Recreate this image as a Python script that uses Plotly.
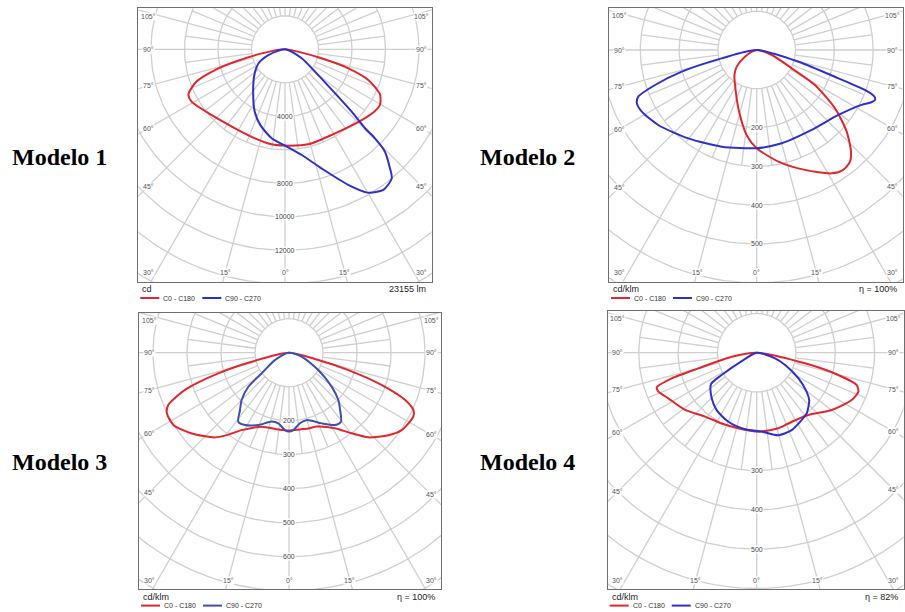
import math
import plotly.graph_objects as go

W, H = 905, 612

# ---------------- data (gamma in degrees, intensity in panel units) ----------------
# Modelo 1 (cd)
P1_C0_GAMMA = [-90, -80.5, -76, -73.5, -70, -65, -60.7, -48, -32, -18.6, -8, 0, 13.8, 30.8, 47.3, 55.6, 59.6, 64.6, 69.8, 73.3, 76.2, 78.7, 90]
P1_C0_VALUE = [0, 1210, 3080, 4360, 5620, 6360, 6390, 5880, 5580, 5610, 5730, 5750, 5840, 5840, 6230, 6510, 6570, 6280, 5300, 3950, 2250, 1020, 0]
P1_C90_GAMMA = [-90, -71, -62, -50, -37, -26, -18, -8.5, 0, 9, 17, 25, 30, 35, 39.6, 41.4, 44.3, 45.3, 45.4, 46.9, 48.7, 53.3, 61.6, 90]
P1_C90_VALUE = [0, 1050, 1800, 2390, 3160, 4130, 4760, 5370, 5750, 6390, 7430, 8930, 9880, 10240, 10000, 9480, 8540, 7560, 6710, 5450, 3980, 2230, 1130, 0]

# Modelo 2 (cd/klm)
P2_C0_GAMMA = [-90, -60.3, -50.2, -41.8, -26.7, -16.0, -6.7, 0, 11.0, 21.9, 31.3, 35.8, 39.9, 42.9, 47.8, 53.3, 59.0, 62.4, 71.6, 90]
P2_C0_VALUE = [0, 35, 67, 86, 120, 165, 221, 253, 293, 333, 372, 381, 375, 357, 313, 252, 175, 102, 41, 0]
P2_C90_GAMMA = [-90, -76.6, -73.9, -71.0, -68.5, -66.0, -61.8, -52.7, -37.7, -19.9, 0, 15, 34.5, 51.5, 62.4, 65.5, 67.1, 68.4, 69.7, 70.9, 74.4, 90]
P2_C90_VALUE = [0, 93, 201, 277, 328, 338, 336, 319, 288, 265, 253, 249, 250, 269, 305, 325, 331, 326, 297, 223, 112, 0]

# Modelo 3 (cd/klm)
P3_C0_GAMMA = [-90, -76.4, -73.7, -70.3, -66.6, -63.6, -58.0, -50.3, -41.2, -37.1, -31.5, -20.3, -7.9, 0, 7.9, 14.3, 20.5, 31.3, 37.8, 43.1, 50.3, 55.5, 62.8, 65.2, 67.8, 70.8, 73.7, 76.0, 90]
P3_C0_VALUE = [0, 113, 217, 325, 387, 401, 401, 372, 331, 304, 267, 232, 228, 229, 228, 230, 232, 260, 300, 341, 380, 402, 411, 403, 369, 288, 182, 89, 0]
P3_C90_GAMMA = [-90, -62.4, -52.9, -50.1, -45, -40.5, -36.3, -31.3, -23.0, -14.1, -8.6, -3.0, 0, 3.2, 8.8, 14.7, 24.8, 32.5, 37.0, 41.7, 46.2, 51.4, 59.4, 72.5, 90]
P3_C90_VALUE = [0, 47, 101, 156, 197, 222, 252, 249, 231, 209, 210, 228, 232, 228, 210, 205, 229, 252, 254, 226, 201, 161, 100, 39, 0]

# Modelo 4 (cd/klm)
P4_C0_GAMMA = [-90, -80.9, -75.0, -73.2, -70.9, -68.4, -62.7, -51.3, -38.9, -26.3, -13.6, 1.2, 16.0, 26.9, 39.7, 52.6, 63.5, 69.0, 72.1, 74.7, 77.6, 90]
P4_C0_VALUE = [0, 64, 154, 226, 269, 269, 253, 233, 209, 201, 198, 201, 200, 197, 206, 240, 270, 277, 267, 215, 126, 0]
P4_C90_GAMMA = [-90, -61.2, -57.5, -55.5, -44.6, -34.9, -22.3, -8.7, 3.6, 14.7, 24.3, 33.7, 39.5, 47.9, 52.0, 58.4, 66.5, 72.8, 90]
P4_C90_VALUE = [0, 39, 106, 141, 163, 178, 190, 197, 201, 217, 216, 206, 200, 180, 161, 125, 79, 49, 0]

MODEL_NAMES = ["Modelo 1", "Modelo 2", "Modelo 3", "Modelo 4"]
SERIES_NAMES = ["C0 - C180", "C90 - C270"]
UNIT_TEXT = ["cd", "cd/klm", "cd/klm", "cd/klm"]
INFO_TEXT = ["23155 lm", "η = 100%", "η = 100%", "η = 82%"]
RING_STEP = [2000, 100, 100, 100]
RING_LABELS = [[4000, 8000, 10000, 12000], [200, 300, 400, 500], [200, 300, 400, 500, 600], [300, 400, 500]]
ANGLE_LABELS = [0, 15, 30, 45, 60, 75, 90, 105]

CURVES = [
    [(P1_C0_GAMMA, P1_C0_VALUE), (P1_C90_GAMMA, P1_C90_VALUE)],
    [(P2_C0_GAMMA, P2_C0_VALUE), (P2_C90_GAMMA, P2_C90_VALUE)],
    [(P3_C0_GAMMA, P3_C0_VALUE), (P3_C90_GAMMA, P3_C90_VALUE)],
    [(P4_C0_GAMMA, P4_C0_VALUE), (P4_C90_GAMMA, P4_C90_VALUE)],
]

# ---------------- layout geometry (pixels) ----------------
GEOM = [
    dict(box=(138.3, 8.3, 431.7, 281.7), c=(285.0, 49.3), px=33.5, label=(10, 157)),
    dict(box=(609.0, 7.7, 902.7, 281.7), c=(756.7, 50.0), px=38.8, label=(478, 157)),
    dict(box=(139.0, 312.7, 441.0, 589.3), c=(289.0, 352.7), px=34.0, label=(10, 462)),
    dict(box=(607.7, 310.7, 903.5, 589.3), c=(756.7, 352.7), px=39.3, label=(478, 462)),
]
RED = "#e2262c"
BLUES = ["#2f2fd0", "#2f2fd0", "#3c4fb2", "#2f2fd0"]
GRID = "#cfcfcf"
FRAME = "#6e6e6e"
SANS = "Liberation Sans, Arial, sans-serif"


def xp(px):
    return px / W


def yp(py):
    return 1 - py / H


fig = go.Figure()
annotations = []
shapes = []
layout_axes = {}

for i in range(4):
    g = GEOM[i]
    L, T, R, B = g["box"]
    cx, cy = g["c"]
    step = RING_STEP[i]
    s = g["px"] / step  # pixels per unit
    xa = "x" if i == 0 else f"x{i + 1}"
    ya = "y" if i == 0 else f"y{i + 1}"
    xname = "xaxis" if i == 0 else f"xaxis{i + 1}"
    yname = "yaxis" if i == 0 else f"yaxis{i + 1}"

    axis_common = dict(showgrid=False, zeroline=False, showticklabels=False, ticks="",
                       showline=True, mirror=True, linecolor=FRAME, linewidth=1, fixedrange=True)
    layout_axes[xname] = dict(domain=[xp(L), xp(R)], range=[(L - cx) / s, (R - cx) / s], anchor=ya, **axis_common)
    layout_axes[yname] = dict(domain=[yp(B), yp(T)], range=[-(B - cy) / s, (cy - T) / s], anchor=xa, **axis_common)

    # concentric rings
    rx, ry = [], []
    for k in range(1, 12):
        for a in range(0, 361, 2):
            t = math.radians(a)
            rx.append(k * step * math.cos(t))
            ry.append(k * step * math.sin(t))
        rx.append(None)
        ry.append(None)
    fig.add_trace(go.Scatter(x=rx, y=ry, mode="lines", line=dict(color=GRID, width=1.3),
                             xaxis=xa, yaxis=ya, hoverinfo="skip", showlegend=False))
    # radial spokes
    sx, sy = [], []
    for a10 in range(0, 3600, 75):
        t = math.radians(a10 / 10)
        r0 = step
        r1 = 12 * step if a10 % 150 == 0 else 3 * step
        sx += [r0 * math.sin(t), r1 * math.sin(t), None]
        sy += [-r0 * math.cos(t), -r1 * math.cos(t), None]
    fig.add_trace(go.Scatter(x=sx, y=sy, mode="lines", line=dict(color=GRID, width=1.3),
                             xaxis=xa, yaxis=ya, hoverinfo="skip", showlegend=False))

    # photometric curves
    colors = [RED, BLUES[i]]
    for j, (gam, val) in enumerate(CURVES[i]):
        x = [v * math.sin(math.radians(a)) for a, v in zip(gam, val)]
        y = [-v * math.cos(math.radians(a)) for a, v in zip(gam, val)]
        fig.add_trace(go.Scatter(x=x, y=y, mode="lines", name=SERIES_NAMES[j],
                                 line=dict(color=colors[j], width=2, shape="spline", smoothing=0.7),
                                 xaxis=xa, yaxis=ya, hoverinfo="skip", showlegend=False))

    # ring labels
    for v in RING_LABELS[i]:
        annotations.append(dict(x=0, y=-v, xref=xa, yref=ya, text=str(v), showarrow=False,
                                font=dict(family=SANS, size=7, color="#444"),
                                bgcolor="white", borderpad=0, xanchor="center", yanchor="middle"))

    # angle labels
    for a in ANGLE_LABELS:
        for side in ([1] if a == 0 else [-1, 1]):
            if a in (0, 15, 30):
                py = B - 9
                if a == 30:
                    px_ = L + 10 if side < 0 else R - 10
                else:
                    px_ = cx + side * (py - cy) * math.tan(math.radians(a))
            else:
                px_ = L + 10 if side < 0 else R - 10
                d = abs(px_ - cx)
                py = cy + d / math.tan(math.radians(a))
                py = max(py, T + 8)
            annotations.append(dict(x=xp(px_), y=yp(py), xref="paper", yref="paper", text=f"{a}°",
                                    showarrow=False, font=dict(family=SANS, size=7, color="#555"),
                                    bgcolor="white", borderpad=0, xanchor="center", yanchor="middle"))

    # text under the frame
    annotations.append(dict(x=xp(L + 2), y=yp(B + 7.5), xref="paper", yref="paper", text=UNIT_TEXT[i],
                            showarrow=False, font=dict(family=SANS, size=9, color="#222"),
                            xanchor="left", yanchor="middle"))
    annotations.append(dict(x=xp(R - 4), y=yp(B + 7.5), xref="paper", yref="paper", text=INFO_TEXT[i],
                            showarrow=False, font=dict(family=SANS, size=9, color="#222"),
                            xanchor="right", yanchor="middle"))
    ly = B + 16.3
    for j, (x0, col) in enumerate([(L + 2, RED), (L + 64, BLUES[i])]):
        shapes.append(dict(type="line", xref="paper", yref="paper", x0=xp(x0), x1=xp(x0 + 19),
                           y0=yp(ly), y1=yp(ly), line=dict(color=col, width=2)))
        annotations.append(dict(x=xp(x0 + 21), y=yp(ly), xref="paper", yref="paper", text=SERIES_NAMES[j],
                                showarrow=False, font=dict(family=SANS, size=7, color="#333"),
                                xanchor="left", yanchor="middle"))

    # model name
    lx, lyy = g["label"]
    annotations.append(dict(x=xp(lx), y=yp(lyy), xref="paper", yref="paper", text=f"<b>{MODEL_NAMES[i]}</b>",
                            showarrow=False, font=dict(family="Liberation Serif, Times New Roman, serif", size=24, color="#000"),
                            xanchor="left", yanchor="middle"))

fig.update_layout(width=W, height=H, margin=dict(l=0, r=0, t=0, b=0),
                  paper_bgcolor="white", plot_bgcolor="white", showlegend=False,
                  annotations=annotations, shapes=shapes, **layout_axes)

fig.write_html("out.html")
